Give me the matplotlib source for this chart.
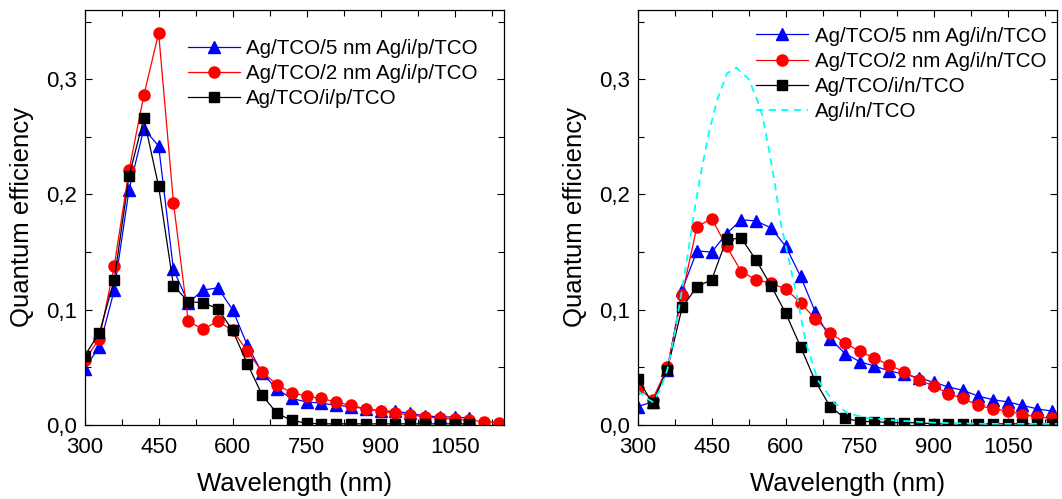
"""Quantum efficiency of Ag/TCO stacks, i/p (left) and i/n (right)."""

import matplotlib
matplotlib.use("Agg")
import matplotlib.pyplot as plt
from matplotlib.ticker import FuncFormatter, MultipleLocator

plt.rcParams["font.family"] = ["Liberation Sans", "DejaVu Sans"]

# wavelength grid of the marked points (nm)
wl = [300, 330, 360, 390, 420, 450, 480, 510, 540, 570, 600, 630, 660, 690,
      720, 750, 780, 810, 840, 870, 900, 930, 960, 990, 1020, 1050, 1080,
      1110, 1140]

# left panel: i/p stacks
ip_5nm = [0.049, 0.068, 0.117, 0.204, 0.257, 0.242, 0.135, 0.106, 0.117,
          0.119, 0.100, 0.069, 0.045, 0.031, 0.023, 0.020, 0.019, 0.017,
          0.016, 0.014, 0.012, 0.012, 0.010, 0.008, 0.007, 0.007, 0.006]
ip_2nm = [0.056, 0.075, 0.138, 0.221, 0.286, 0.340, 0.193, 0.090, 0.083,
          0.090, 0.082, 0.064, 0.046, 0.035, 0.028, 0.025, 0.023, 0.020,
          0.017, 0.014, 0.012, 0.010, 0.009, 0.007, 0.006, 0.005, 0.004,
          0.003, 0.002]
ip_ref = [0.060, 0.080, 0.126, 0.216, 0.266, 0.207, 0.121, 0.107, 0.106,
          0.101, 0.082, 0.053, 0.026, 0.010, 0.004, 0.0015, 0.001, 0.001,
          0.001, 0.001, 0.001, 0.001, 0.001, 0.001, 0.001, 0.001, 0.001]

# right panel: i/n stacks
in_5nm = [0.016, 0.020, 0.048, 0.117, 0.151, 0.150, 0.166, 0.178, 0.177,
          0.171, 0.155, 0.129, 0.098, 0.075, 0.062, 0.055, 0.051, 0.047,
          0.044, 0.041, 0.037, 0.033, 0.030, 0.025, 0.022, 0.020, 0.017,
          0.014, 0.012]
in_2nm = [0.032, 0.022, 0.050, 0.113, 0.172, 0.179, 0.155, 0.133, 0.126,
          0.123, 0.118, 0.106, 0.092, 0.080, 0.071, 0.064, 0.058, 0.052,
          0.046, 0.039, 0.034, 0.027, 0.023, 0.017, 0.014, 0.012, 0.009,
          0.007, 0.006]
in_ref = [0.040, 0.019, 0.048, 0.102, 0.120, 0.126, 0.161, 0.162, 0.143,
          0.121, 0.097, 0.068, 0.038, 0.016, 0.006, 0.003, 0.003, 0.002,
          0.002, 0.002, 0.001, 0.001, 0.001, 0.001, 0.001, 0.001, 0.001,
          0.001, 0.001]

# Ag/i/n/TCO without TCO interlayer (dashed, no markers)
wl_bare = [300, 315, 330, 345, 360, 375, 390, 403, 413, 427, 444, 461, 481,
           500, 525, 542, 553, 566, 580, 590, 605, 624, 641, 665, 699, 726,
           767, 820, 900, 1000, 1100, 1150]
in_bare = [0.030, 0.024, 0.020, 0.030, 0.048, 0.080, 0.118, 0.152, 0.181,
           0.216, 0.253, 0.282, 0.305, 0.310, 0.300, 0.282, 0.268, 0.239,
           0.204, 0.175, 0.146, 0.109, 0.071, 0.039, 0.019, 0.010, 0.006,
           0.004, 0.002, 0.001, 0.001, 0.001]

fig = plt.figure(figsize=(10.62, 4.99), dpi=100)
ax1 = fig.add_axes([0.0797, 0.1483, 0.3948, 0.8317])
ax2 = fig.add_axes([0.6005, 0.1483, 0.3948, 0.8317])

kw = dict(linewidth=0.9, markersize=8)
ax1.plot(wl[:len(ip_5nm)], ip_5nm, "^-", color="blue",
         label="Ag/TCO/5 nm Ag/i/p/TCO", **kw)
ax1.plot(wl[:len(ip_2nm)], ip_2nm, "o-", color="red",
         label="Ag/TCO/2 nm Ag/i/p/TCO", **kw)
ax1.plot(wl[:len(ip_ref)], ip_ref, "s-", color="black", markersize=6.5,
         linewidth=0.9, label="Ag/TCO/i/p/TCO")

ax2.plot(wl, in_5nm, "^-", color="blue", label="Ag/TCO/5 nm Ag/i/n/TCO", **kw)
ax2.plot(wl, in_2nm, "o-", color="red", label="Ag/TCO/2 nm Ag/i/n/TCO", **kw)
ax2.plot(wl, in_ref, "s-", color="black", markersize=6.5, linewidth=0.9,
         label="Ag/TCO/i/n/TCO")
ax2.plot(wl_bare, in_bare, color="cyan", linewidth=1.3,
         linestyle=(0, (4, 3)), label="Ag/i/n/TCO")

virgula = FuncFormatter(lambda v, pos: f"{v:.1f}".replace(".", ","))
for ax in (ax1, ax2):
    ax.set_xlim(300, 1150)
    ax.set_ylim(0, 0.36)
    ax.xaxis.set_major_locator(MultipleLocator(150))
    ax.xaxis.set_minor_locator(MultipleLocator(75))
    ax.yaxis.set_major_locator(MultipleLocator(0.1))
    ax.yaxis.set_minor_locator(MultipleLocator(0.05))
    ax.yaxis.set_major_formatter(virgula)
    ax.tick_params(which="both", direction="in", top=True, right=True,
                   labelsize=16, width=0.8)
    ax.tick_params(which="major", length=5)
    ax.tick_params(which="minor", length=4)
    ax.tick_params(axis="x", which="major", pad=9)
    ax.tick_params(axis="y", which="major", pad=5.5)
    for s in ax.spines.values():
        s.set_linewidth(0.9)
    ax.set_xlabel("Wavelength (nm)", fontsize=18.5, labelpad=10)
    ax.set_ylabel("Quantum efficiency", fontsize=18.5, labelpad=9)

leg_kw = dict(loc="upper left", frameon=False, fontsize=14.8, borderpad=0,
              borderaxespad=0, handlelength=2.55, handletextpad=0.3,
              labelspacing=0.3)
ax1.legend(bbox_to_anchor=(0.246, 0.93), **leg_kw)
ax2.legend(bbox_to_anchor=(0.282, 0.96), **leg_kw)

fig.savefig("out.png", dpi=100)
